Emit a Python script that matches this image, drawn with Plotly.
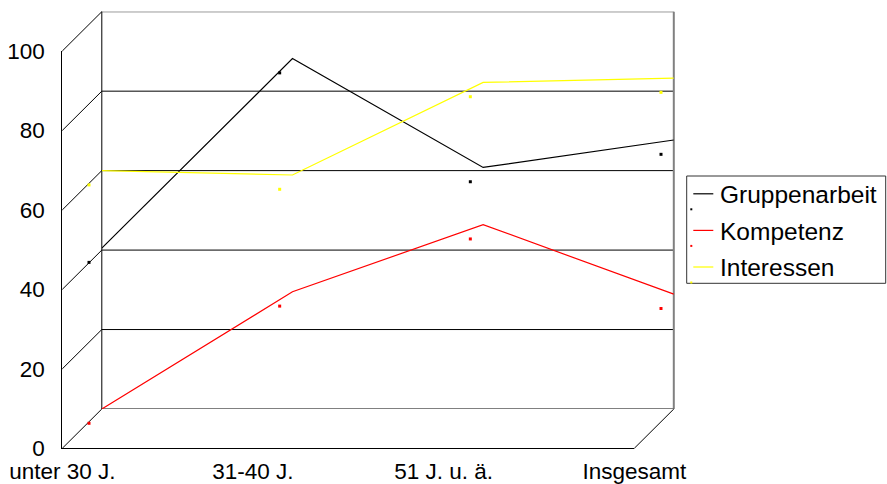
import plotly.graph_objects as go

# ---- data ----
categories = ["unter 30 J.", "31-40 J.", "51 J. u. ä.", "Insgesamt"]
gruppenarbeit = [40.5, 88.2, 60.8, 67.7]
kompetenz = [0.0, 29.5, 46.4, 28.9]
interessen = [60.0, 58.9, 82.2, 83.3]
y_ticks = [0, 20, 40, 60, 80, 100]

series = [
    ("Gruppenarbeit", gruppenarbeit, "#000000"),
    ("Kompetenz", kompetenz, "#FF0000"),
    ("Interessen", interessen, "#FFFF00"),
]

# ---- geometry (pixels) ----
W, H = 887, 484
FX0, FX1 = 62.3, 634.3       # front plane category span
FY0, FY1 = 448.3, 51.0       # front plane value 0 / 100
DDX, DDY = 39.5, -39.3       # depth offset front -> back
PDX, PDY = -12.8, 14.3       # marker plane offset from back plane

# legend box geometry (pixels)
LG_X0, LG_X1, LG_Y0, LG_Y1 = 686.7, 885.7, 176.0, 283.3
LG_ROW0, LG_ROWSTEP = 193.8, 36.6
LG_LINE_X0, LG_LINE_X1, LG_TEXT_X = 693.3, 713.3, 718.5

def px(x):
    return x / W

def py(y):
    return (H - y) / H

def dom_x(x0, x1):
    return [px(x0), px(x1)]

def dom_y(y0, y1):
    return [py(y0), py(y1)]

BX0, BX1 = FX0 + DDX, FX1 + DDX
BY0, BY1 = FY0 + DDY, FY1 + DDY
MX0, MX1 = BX0 + PDX, BX1 + PDX
MY0, MY1 = BY0 + PDY, BY1 + PDY

font = "Arial, Liberation Sans, sans-serif"
fig = go.Figure()

# invisible trace to anchor the front axes (category labels + value labels)
fig.add_trace(go.Scatter(
    x=categories, y=[0, 0, 0, 0], mode="none", showlegend=False,
    hoverinfo="skip", xaxis="x", yaxis="y",
))

for name, vals, col in series:
    fig.add_trace(go.Scatter(
        x=categories, y=vals, mode="lines", name=name, showlegend=False,
        line=dict(color=col, width=1.2), xaxis="x2", yaxis="y2",
        cliponaxis=False,
    ))
for name, vals, col in series:
    fig.add_trace(go.Scatter(
        x=categories, y=vals, mode="markers", name=name, showlegend=False,
        marker=dict(color=col, size=3, symbol="square", line=dict(width=0)),
        xaxis="x3", yaxis="y3", cliponaxis=False,
    ))

cat_range = [0, len(categories) - 1]
common_x = dict(type="category", range=cat_range, showgrid=False, zeroline=False,
                fixedrange=True, automargin=False)
common_y = dict(range=[0, 100], zeroline=False, fixedrange=True, automargin=False)

fig.update_layout(
    width=W, height=H,
    margin=dict(l=0, r=0, t=0, b=0, autoexpand=False),
    paper_bgcolor="white", plot_bgcolor="rgba(0,0,0,0)",
    font=dict(family=font, size=22.5, color="black"),
    xaxis=dict(**common_x, domain=dom_x(FX0, FX1), anchor="y",
               showline=True, linecolor="black", linewidth=1,
               showticklabels=True, ticks="", ticklabelstandoff=3,
               tickfont=dict(size=22.5)),
    yaxis=dict(**common_y, domain=dom_y(FY0, FY1), anchor="x",
               showline=True, linecolor="black", linewidth=1,
               tickvals=y_ticks, showgrid=False, ticks="",
               ticklabelstandoff=12, tickfont=dict(size=22.5)),
    xaxis2=dict(**common_x, domain=dom_x(BX0, BX1), anchor="y2",
                showticklabels=False, showline=False),
    yaxis2=dict(**common_y, domain=dom_y(BY0, BY1), anchor="x2",
                showticklabels=False, showgrid=False, showline=False),
    xaxis3=dict(**common_x, domain=dom_x(MX0, MX1), anchor="y3",
                showticklabels=False, showline=False),
    yaxis3=dict(**common_y, domain=dom_y(MY0, MY1), anchor="x3",
                showticklabels=False, showgrid=False, showline=False),
    showlegend=False,
)

shapes = []
# back wall gridlines (on back-plane value scale)
for v in y_ticks:
    shapes.append(dict(type="line", xref="x2 domain", yref="y2",
                       x0=0, x1=1, y0=v, y1=v,
                       line=dict(color="black", width=1), layer="below"))
# back wall left and right edges
shapes.append(dict(type="line", xref="x2 domain", yref="y2 domain",
                   x0=0, x1=0, y0=0, y1=1, line=dict(color="black", width=1),
                   layer="below"))
shapes.append(dict(type="line", xref="x2 domain", yref="y2 domain",
                   x0=1, x1=1, y0=0, y1=1, line=dict(color="#808080", width=2),
                   layer="below"))
# side wall diagonals from front axis to back wall
for v in y_ticks:
    yf = FY0 + (FY1 - FY0) * v / 100
    yb = BY0 + (BY1 - BY0) * v / 100
    shapes.append(dict(type="line", xref="paper", yref="paper",
                       x0=px(FX0), y0=py(yf), x1=px(BX0), y1=py(yb),
                       line=dict(color="black", width=1), layer="below"))
# floor right diagonal
shapes.append(dict(type="line", xref="paper", yref="paper",
                   x0=px(FX1), y0=py(FY0), x1=px(BX1), y1=py(BY0),
                   line=dict(color="black", width=1), layer="below"))

# legend (Excel-style: line sample, marker sample below-left, label)
shapes.append(dict(type="rect", xref="paper", yref="paper",
                   x0=px(LG_X0), x1=px(LG_X1), y0=py(LG_Y1), y1=py(LG_Y0),
                   line=dict(color="#333333", width=1), fillcolor="white",
                   layer="above"))
annotations = []
for i, (name, vals, col) in enumerate(series):
    yc = LG_ROW0 + i * LG_ROWSTEP
    shapes.append(dict(type="line", xref="paper", yref="paper",
                       x0=px(LG_LINE_X0), x1=px(LG_LINE_X1), y0=py(yc), y1=py(yc),
                       line=dict(color=col, width=1.2), layer="above"))
    shapes.append(dict(type="rect", xref="paper", yref="paper",
                       x0=px(LG_LINE_X0 - 3), x1=px(LG_LINE_X0 - 1),
                       y0=py(yc + 16.5), y1=py(yc + 14.5),
                       line=dict(width=0), fillcolor=col, layer="above"))
    annotations.append(dict(text=name, xref="paper", yref="paper",
                            x=px(LG_TEXT_X), y=py(yc + 1), xanchor="left",
                            yanchor="middle", showarrow=False,
                            font=dict(size=24.5, family=font, color="black"),
                            borderpad=0))
fig.update_layout(shapes=shapes, annotations=annotations)

fig.write_html("out.html")
